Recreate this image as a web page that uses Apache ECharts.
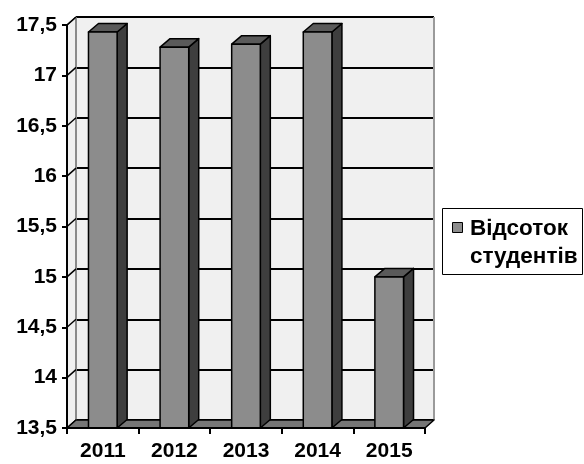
<!DOCTYPE html>
<html>
<head>
<meta charset="utf-8">
<script src="https://cdn.jsdelivr.net/npm/echarts@6/dist/echarts.min.js"></script>
<style>
  html, body { margin: 0; padding: 0; background: #fff; }
  #chart { width: 584px; height: 464px; }
</style>
</head>
<body>
<div id="chart"></div>
<script>
// Share of students by year
const years = ['2011', '2012', '2013', '2014', '2015'];
const studentShare = [17.43, 17.28, 17.31, 17.43, 15.0];
const yTicks = [13.5, 14, 14.5, 15, 15.5, 16, 16.5, 17, 17.5];
const seriesName = 'Відсоток студентів';
const legendLines = ['Відсоток', 'студентів'];

const Y_MIN = 13.5, Y_MAX = 17.5, Y_STEP = 0.5;
// depth offset of the back wall and of the column tops/sides
const WALL_DX = 9, WALL_DY = -8;
const BAR_DX = 10, BAR_DY = -8.5;
const BAR_RATIO = 0.4;
const FONT = 'Liberation Sans, Arial, sans-serif';

const chart = echarts.init(document.getElementById('chart'), null, { renderer: 'canvas' });

function frameItem(params, api) {
  const p0 = api.coord([0, Y_MIN]);
  const half = api.size([1, 0])[0] / 2;
  const xL = p0[0] - half;
  const xR = api.coord([years.length - 1, Y_MIN])[0] + half;
  const yB = p0[1];
  const yT = api.coord([0, Y_MAX])[1];
  const children = [];
  // left side wall
  children.push({
    type: 'polygon',
    shape: { points: [[xL, yT], [xL + WALL_DX, yT + WALL_DY], [xL + WALL_DX, yB + WALL_DY], [xL, yB]] },
    style: { fill: '#f0f0f0' }
  });
  children.push({
    type: 'line',
    shape: { x1: xL, y1: yT, x2: xL + WALL_DX, y2: yT + WALL_DY },
    style: { stroke: '#444', lineWidth: 1.5 }
  });
  children.push({
    type: 'line',
    shape: { x1: xL + WALL_DX, y1: yT + WALL_DY, x2: xL + WALL_DX, y2: yB + WALL_DY },
    style: { stroke: '#8a8a8a', lineWidth: 2 }
  });
  children.push({
    type: 'line',
    shape: { x1: xR + WALL_DX, y1: yT + WALL_DY, x2: xR + WALL_DX, y2: yB + WALL_DY },
    style: { stroke: '#9a9a9a', lineWidth: 2 }
  });
  // tick connectors from the front axis to the back wall
  yTicks.forEach(function (t) {
    const y = api.coord([0, t])[1];
    children.push({
      type: 'line',
      shape: { x1: xL, y1: y, x2: xL + WALL_DX, y2: y + WALL_DY },
      style: { stroke: '#000', lineWidth: 1.5 }
    });
  });
  // floor
  children.push({
    type: 'polygon',
    shape: { points: [[xL, yB], [xL + WALL_DX, yB + WALL_DY], [xR + WALL_DX, yB + WALL_DY], [xR, yB]] },
    style: { fill: '#767676', stroke: '#000', lineWidth: 1.5, lineJoin: 'round' }
  });
  return { type: 'group', children: children };
}

function barItem(params, api) {
  const idx = api.value(0);
  const val = api.value(1);
  const top = api.coord([idx, val]);
  const base = api.coord([idx, Y_MIN]);
  const w = api.size([1, 0])[0] * BAR_RATIO;
  const x0 = top[0] - w / 2, x1 = top[0] + w / 2;
  const yT = top[1], yB = base[1];
  const edge = { stroke: '#000', lineWidth: 1.5, lineJoin: 'round' };
  return {
    type: 'group',
    children: [
      {
        type: 'polygon',
        shape: { points: [[x1, yT], [x1 + BAR_DX, yT + BAR_DY], [x1 + BAR_DX, yB + BAR_DY], [x1, yB]] },
        style: Object.assign({ fill: '#3e3e3e' }, edge)
      },
      {
        type: 'polygon',
        shape: { points: [[x0, yT], [x0 + BAR_DX, yT + BAR_DY], [x1 + BAR_DX, yT + BAR_DY], [x1, yT]] },
        style: Object.assign({ fill: '#5a5a5a' }, edge)
      },
      {
        type: 'rect',
        shape: { x: x0, y: yT, width: w, height: yB - yT },
        style: Object.assign({ fill: '#8c8c8c' }, edge)
      }
    ]
  };
}

const axisText = { color: '#000', fontSize: 21, fontWeight: 'bold', fontFamily: FONT };

chart.setOption({
  animation: false,
  backgroundColor: '#fff',
  grid: [
    { left: 67, top: 25, width: 358, height: 403 },
    {
      left: 67 + WALL_DX, top: 25 + WALL_DY, width: 358, height: 403,
      show: true, backgroundColor: '#f0f0f0', borderWidth: 0
    }
  ],
  xAxis: [
    {
      type: 'category', gridIndex: 0, data: years, z: 5,
      axisLine: { lineStyle: { color: '#000', width: 2 } },
      axisTick: { show: true, length: 6, lineStyle: { color: '#000', width: 2 } },
      axisLabel: Object.assign({ margin: 13 }, axisText),
      splitLine: { show: false }
    },
    { type: 'category', gridIndex: 1, data: years, show: false }
  ],
  yAxis: [
    {
      type: 'value', gridIndex: 0, min: Y_MIN, max: Y_MAX, interval: Y_STEP, z: 5,
      axisLine: { show: true, lineStyle: { color: '#000', width: 2 } },
      axisTick: { show: true, length: 5, lineStyle: { color: '#000', width: 2 } },
      axisLabel: Object.assign({
        margin: 10,
        formatter: function (v) { return String(v).replace('.', ','); }
      }, axisText),
      splitLine: { show: false }
    },
    {
      type: 'value', gridIndex: 1, min: Y_MIN, max: Y_MAX, interval: Y_STEP,
      axisLine: { show: false }, axisTick: { show: false }, axisLabel: { show: false },
      splitLine: { show: true, lineStyle: { color: '#000', width: 2 } }
    }
  ],
  series: [
    {
      type: 'custom', name: 'frame', xAxisIndex: 0, yAxisIndex: 0, z: 1,
      silent: true, data: [[0, Y_MIN]], renderItem: frameItem
    },
    {
      type: 'custom', name: seriesName, xAxisIndex: 0, yAxisIndex: 0, z: 3,
      data: studentShare.map(function (v, i) { return [i, v]; }),
      renderItem: barItem
    }
  ],
  graphic: [
    {
      type: 'group',
      children: [
        {
          type: 'rect', shape: { x: 442.5, y: 208.5, width: 140, height: 66 },
          style: { fill: '#fff', stroke: '#000', lineWidth: 1 }
        },
        {
          type: 'rect', shape: { x: 452.5, y: 222.5, width: 10, height: 10 },
          style: { fill: '#8c8c8c', stroke: '#000', lineWidth: 1 }
        },
        {
          type: 'text', x: 470, y: 229,
          style: { text: legendLines[0], fill: '#000', font: 'bold 22.5px ' + FONT, verticalAlign: 'middle' }
        },
        {
          type: 'text', x: 470, y: 257,
          style: { text: legendLines[1], fill: '#000', font: 'bold 22.5px ' + FONT, verticalAlign: 'middle' }
        }
      ]
    }
  ]
});
</script>
</body>
</html>
